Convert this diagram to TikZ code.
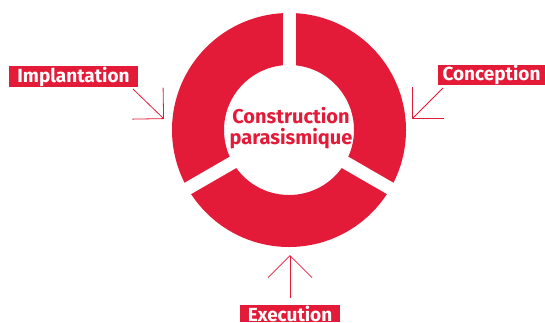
\documentclass[tikz,border=0pt]{standalone}
\usepackage{fontspec}
\setmainfont{Fira Sans}
\usetikzlibrary{arrows.meta}
\definecolor{rred}{RGB}{228,27,56}
\begin{document}
\begin{tikzpicture}[x=1pt,y=-1pt,
  labelbox/.style={fill=rred,text=white,inner sep=0pt,font=\bfseries\fontsize{19}{19}\selectfont},
  pointer/.style={draw=rred,line width=0.8pt,-{Straight Barb[length=22pt,width=44pt,line width=0.8pt]}}]
\useasboundingbox (0,0) rectangle (545,322);
\clip (0,0) rectangle (545,322);
% ring
\coordinate (c) at (289,130);
\fill[rred,even odd rule] (c) circle[radius=117] (c) circle[radius=65];
\foreach \a in {90,210,330}{
  \draw[white,line width=13pt] (c) -- ++({\a}:-125);
}
\node[text=rred,align=center,font=\bfseries\fontsize{20}{21}\selectfont] (centre) at (291,128) {Construction\\parasismique};
% labels
\node[labelbox,minimum width=129pt,minimum height=21pt] (impl) at (73.5,76.5) {Implantation};
\node[labelbox,minimum width=107pt,minimum height=20pt] (conc) at (491.5,75) {Conception};
\node[labelbox,minimum width=100pt,minimum height=17pt] (exec) at (290,313.5) {Execution};
% arrows
\coordinate (impls) at (133,89);
\coordinate (implt) at (164,119);
\coordinate (concs) at (443,88);
\coordinate (conct) at (412,119);
\coordinate (execs) at (290,298);
\coordinate (exect) at (290,255);
\draw[pointer] (impls) -- (implt);
\draw[pointer] (concs) -- (conct);
\draw[pointer] (execs) -- (exect);
\end{tikzpicture}
\end{document}
